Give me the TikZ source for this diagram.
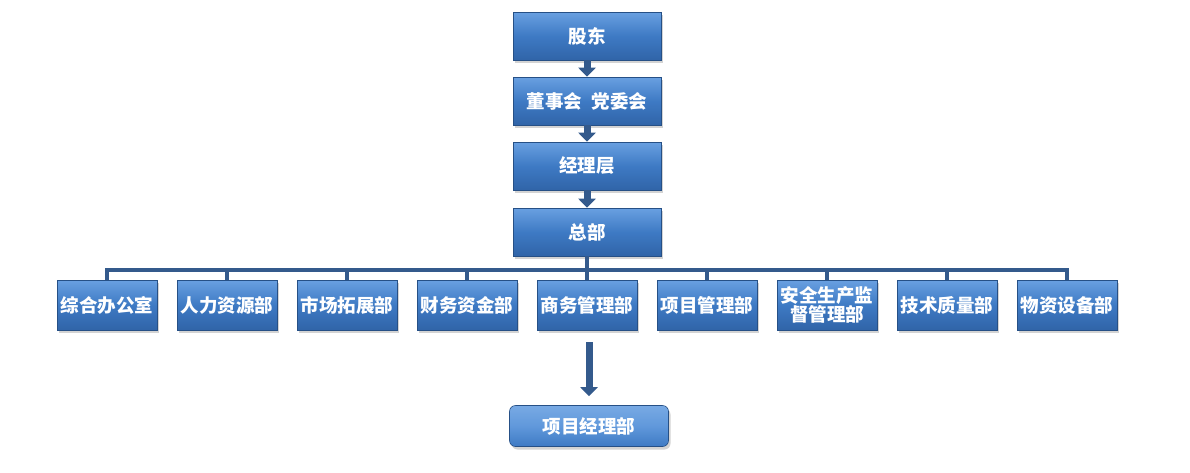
\documentclass[tikz,border=0pt]{standalone}
\usepackage{fontspec}
\setmainfont{Noto Sans CJK SC}
\usetikzlibrary{shadows,arrows.meta,positioning}
\definecolor{boxtop}{RGB}{105,160,225}
\definecolor{boxmid}{RGB}{62,122,196}
\definecolor{boxbot}{RGB}{48,100,168}
\definecolor{linec}{RGB}{52,90,140}
\tikzset{
  orgbox/.style={draw=boxbot!80!black, line width=0.6pt, top color=boxtop, bottom color=boxbot, middle color=boxmid,
    text=white, font=\bfseries\fontsize{18.5}{21}\selectfont, align=center, inner sep=0pt,
    drop shadow={shadow xshift=2pt, shadow yshift=-3pt, opacity=0.35}},
  topbox/.style={orgbox, minimum width=148pt, minimum height=48pt},
  deptbox/.style={orgbox, minimum width=100pt, minimum height=50pt},
  pmbox/.style={orgbox, rounded corners=6pt, top color=boxtop!90!white, bottom color=boxmid, middle color=boxtop!80!boxmid,
    minimum width=159pt, minimum height=41pt},
  conn/.style={draw=linec, line width=4pt},
  fatarrow/.style={draw=linec, line width=7pt, -{Triangle[width=17pt,length=9pt]}},
}
\begin{document}
\begin{tikzpicture}[x=1pt,y=-1pt]
\useasboundingbox (0,0) rectangle (1190,472);
\node[topbox] (gd) at (587,36) {股东};
\node[topbox] (dsh) at (587,101) {董事会\hspace{0.5em}党委会};
\node[topbox] (jl) at (587,166) {经理层};
\node[topbox] (zb) at (587,232) {总部};
\coordinate (bus) at (587,270);
\foreach \n/\x/\t in {d1/107/综合办公室, d2/227/人力资源部, d3/347/市场拓展部, d4/467/财务资金部, d5/587/商务管理部, d6/707/项目管理部, d7/827/{安全生产监\\[-2pt]督管理部}, d8/947/技术质量部, d9/1067/物资设备部}{
  \node[deptbox] (\n) at (\x,305) {\t};
}
\node[pmbox] (pm) at (589,426) {项目经理部};
% arrows between top boxes
\draw[fatarrow] (gd.south) -- (dsh.north);
\draw[fatarrow] (dsh.south) -- (jl.north);
\draw[fatarrow] (jl.south) -- (zb.north);
% bus
\draw[conn] (zb.south) -- (bus);
\draw[conn] (d1.north) |- (bus) -| (d9.north);
\foreach \n in {d2,d3,d4,d5,d6,d7,d8}{
  \draw[conn] (\n.north) -- (\n.north |- bus);
}
\coordinate (arrtop) at (589,342);
\draw[fatarrow] (arrtop) -- ([yshift=9pt]pm.north);
\end{tikzpicture}
\end{document}
